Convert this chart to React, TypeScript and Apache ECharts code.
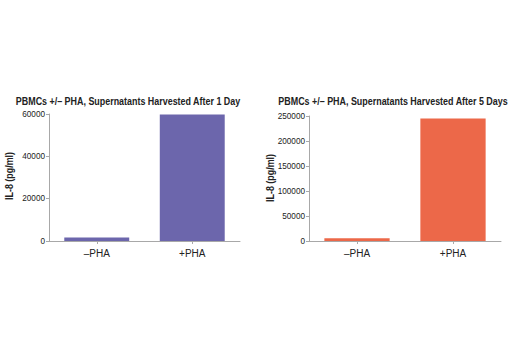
import React, { useEffect, useRef } from "react";
import * as echarts from "echarts";

const categories = ["–PHA", "+PHA"];
const day1Values = [1700, 59800];
const day5Values = [5500, 245000];
const day1Ticks = { max: 60000, interval: 20000 };
const day5Ticks = { max: 250000, interval: 50000 };
const titles = [
  "PBMCs +/– PHA, Supernatants Harvested After 1 Day",
  "PBMCs +/– PHA, Supernatants Harvested After 5 Days",
];
const yName = "IL-8 (pg/ml)";

export default function App() {
  const ref = useRef<HTMLDivElement>(null);
  useEffect(() => {
    if (!ref.current) return;
    const chart = echarts.init(ref.current, undefined, { renderer: "svg" });
    const axisLine = { show: true, lineStyle: { color: "#a8a8a8", width: 1 } };
    const labelFont = "Liberation Sans";
    const boldFont = `bold 10.5px "Liberation Sans"`;
    const makeX = (gridIndex: number) => ({
      type: "category" as const,
      gridIndex,
      data: categories,
      axisLine,
      axisTick: { show: true, alignWithLabel: true, length: 3, lineStyle: { color: "#a8a8a8" } },
      axisLabel: { color: "#222", fontFamily: labelFont, fontSize: 10, margin: 7 },
    });
    const makeY = (gridIndex: number, t: { max: number; interval: number }) => ({
      type: "value" as const,
      gridIndex,
      min: 0,
      max: t.max,
      interval: t.interval,
      splitLine: { show: false },
      axisLine,
      axisTick: { show: true, length: 3, lineStyle: { color: "#a8a8a8" } },
      axisLabel: {
        color: "#222",
        fontFamily: labelFont,
        fontSize: 8.2,
        margin: 4,
        formatter: (v: number) => String(v),
      },
    });
    const titleText = (text: string, x: number) => ({
      type: "text",
      x,
      y: 101,
      scaleX: 0.85,
      style: { text, textAlign: "center", textVerticalAlign: "middle", font: boldFont, fill: "#222" },
    });
    const nameText = (x: number, y: number) => ({
      type: "text",
      x,
      y,
      rotation: Math.PI / 2,
      scaleX: 0.85,
      style: { text: yName, textAlign: "center", textVerticalAlign: "middle", font: boldFont, fill: "#222" },
    });
    chart.setOption({
      animation: false,
      graphic: [titleText(titles[0], 128), titleText(titles[1], 393), nameText(9, 176), nameText(270, 178)],
      grid: [
        { left: 49, top: 114, width: 191, height: 127 },
        { left: 309, top: 116, width: 192, height: 125 },
      ],
      xAxis: [makeX(0), makeX(1)],
      yAxis: [makeY(0, day1Ticks), makeY(1, day5Ticks)],
      series: [
        {
          type: "bar",
          xAxisIndex: 0,
          yAxisIndex: 0,
          data: day1Values,
          barWidth: "68%",
          itemStyle: { color: "#6c66ac" },
        },
        {
          type: "bar",
          xAxisIndex: 1,
          yAxisIndex: 1,
          data: day5Values,
          barWidth: "68%",
          itemStyle: { color: "#ec6849" },
        },
      ],
    });
    return () => chart.dispose();
  }, []);
  return <div ref={ref} style={{ width: 520, height: 350, position: "absolute", left: 0, top: 0, background: "#fff" }} />;
}
